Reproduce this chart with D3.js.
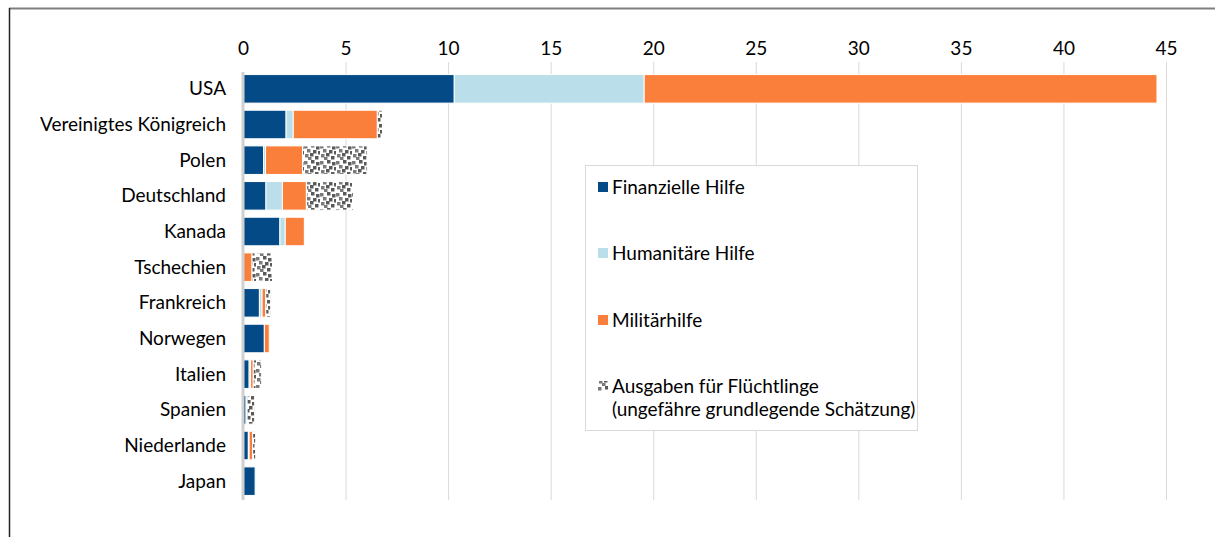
<!DOCTYPE html>
<html>
<head>
<meta charset="utf-8">
<script src="https://cdn.jsdelivr.net/npm/d3@7"></script>
<style>
  body { margin: 0; background: #fff; }
  text { font-family: Lato, sans-serif; fill: #000; }
</style>
</head>
<body>
<script>
// Daten (Mrd. Euro, geschätzt aus der Grafik)
const countries = ['USA', 'Vereinigtes Königreich', 'Polen', 'Deutschland', 'Kanada', 'Tschechien',
    'Frankreich', 'Norwegen', 'Italien', 'Spanien', 'Niederlande', 'Japan']
const finanziell = [10.3, 2.1, 1.0, 1.12, 1.8, 0, 0.8, 1.04, 0.3, 0.15, 0.26, 0.59]
const humanitaer = [9.26, 0.35, 0.1, 0.8, 0.26, 0, 0.13, 0, 0.07, 0.05, 0.04, 0]
const militaer = [25.0, 4.1, 1.8, 1.17, 0.93, 0.44, 0.18, 0.24, 0.13, 0, 0.17, 0]
const fluechtlinge = [0, 0.25, 3.15, 2.3, 0, 1.0, 0.24, 0, 0.41, 0.37, 0.15, 0]
const ticks = [0, 5, 10, 15, 20, 25, 30, 35, 40, 45]
const seriesNames = ['Finanzielle Hilfe', 'Humanitäre Hilfe', 'Militärhilfe',
    'Ausgaben für Flüchtlinge\n(ungefähre grundlegende Schätzung)']
const colors = ['#034a86', '#badeea', '#fa7f3b', 'url(#confetti)']

let width = 1215, height = 537
let fs = 19

let svg = d3.select('body')
    .append('svg')
    .attr('width', width)
    .attr('height', height)

// Muster fuer Fluechtlinge (Konfetti)
let pat = svg.append('defs').append('pattern')
    .attr('id', 'confetti')
    .attr('patternUnits', 'userSpaceOnUse')
    .attr('width', 16)
    .attr('height', 16)
pat.append('rect').attr('width', 16).attr('height', 16).attr('fill', '#fff')
const dots = [[0, 1], [7, 0], [12, 2], [3, 5], [9, 6], [14, 7], [1, 10], [6, 9], [11, 12], [4, 13]]
pat.selectAll('rect.d')
    .data(dots)
    .enter()
    .append('rect')
    .attr('class', 'd')
    .attr('x', d => d[0])
    .attr('y', d => d[1])
    .attr('width', 3.5)
    .attr('height', 3.5)
    .attr('fill', (d, i) => i % 3 ? '#5a5a5a' : '#7a7a7a')

// Rahmen
svg.append('line').attr('x1', 9).attr('x2', width).attr('y1', 8.5).attr('y2', 8.5)
    .attr('stroke', '#7f7f7f').attr('stroke-width', 2)
svg.append('line').attr('x1', 9.5).attr('x2', 9.5).attr('y1', 8).attr('y2', height)
    .attr('stroke', '#222').attr('stroke-width', 1.5)

let x = d3.scaleLinear().domain([0, 45]).range([243, 1166])
let y = d3.scaleBand().domain(countries).range([71, 499]).paddingInner(0.2).paddingOuter(0.1)

// Gitterlinien
svg.append('g')
    .selectAll('line')
    .data(ticks.slice(1))
    .enter()
    .append('line')
    .attr('x1', d => x(d) + 0.5)
    .attr('x2', d => x(d) + 0.5)
    .attr('y1', 62)
    .attr('y2', 500)
    .attr('stroke', '#d9d9d9')

// Achse oben
let xAxis = svg.append('g')
    .attr('transform', 'translate(0,55)')
    .call(d3.axisTop(x).tickValues(ticks).tickSize(0).tickPadding(0))
xAxis.select('.domain').remove()
xAxis.selectAll('text').attr('font-size', fs).attr('font-family', 'Lato, sans-serif').attr('fill', '#000')

// gestapelte Balken
const keys = [0, 1, 2, 3]
const table = countries.map((c, i) => ({
    country: c, 0: finanziell[i], 1: humanitaer[i], 2: militaer[i], 3: fluechtlinge[i]
}))
let stack = d3.stack().keys(keys)(table)

svg.append('g')
    .selectAll('g')
    .data(stack)
    .enter()
    .append('g')
    .attr('fill', d => colors[d.key])
    .selectAll('rect')
    .data(d => d)
    .enter()
    .filter(d => d[1] - d[0] > 0)
    .append('rect')
    .attr('x', d => x(d[0]))
    .attr('y', d => y(d.data.country))
    .attr('width', d => x(d[1]) - x(d[0]))
    .attr('height', y.bandwidth())
    .attr('stroke', '#fff')
    .attr('stroke-width', 1)

// y-Achse
svg.append('line')
    .attr('x1', 243).attr('x2', 243)
    .attr('y1', 72).attr('y2', 500)
    .attr('stroke', '#d0d0d0')
    .attr('stroke-width', 3)

svg.append('g')
    .selectAll('text')
    .data(countries)
    .enter()
    .append('text')
    .attr('x', 226)
    .attr('y', d => y(d) + y.bandwidth() / 2)
    .attr('dy', '0.35em')
    .attr('text-anchor', 'end')
    .attr('font-size', fs)
    .text(d => d)

// Legende
let legend = svg.append('g')
legend.append('rect')
    .attr('x', 585.5).attr('y', 165.5)
    .attr('width', 332).attr('height', 265)
    .attr('fill', '#fff')
    .attr('stroke', '#d9d9d9')

const legY = [187, 253, 320, 386]
let items = legend.selectAll('g.item')
    .data(seriesNames)
    .enter()
    .append('g')
    .attr('transform', (d, i) => `translate(598,${legY[i]})`)
items.append('rect')
    .attr('x', 0).attr('y', -5)
    .attr('width', 10).attr('height', 10)
    .attr('fill', (d, i) => colors[i])
items.append('text')
    .attr('font-size', fs)
    .selectAll('tspan')
    .data(d => d.split('\n'))
    .enter()
    .append('tspan')
    .attr('x', 14)
    .attr('y', (d, i) => i * 23)
    .attr('dy', '0.35em')
    .text(d => d)
</script>
</body>
</html>
